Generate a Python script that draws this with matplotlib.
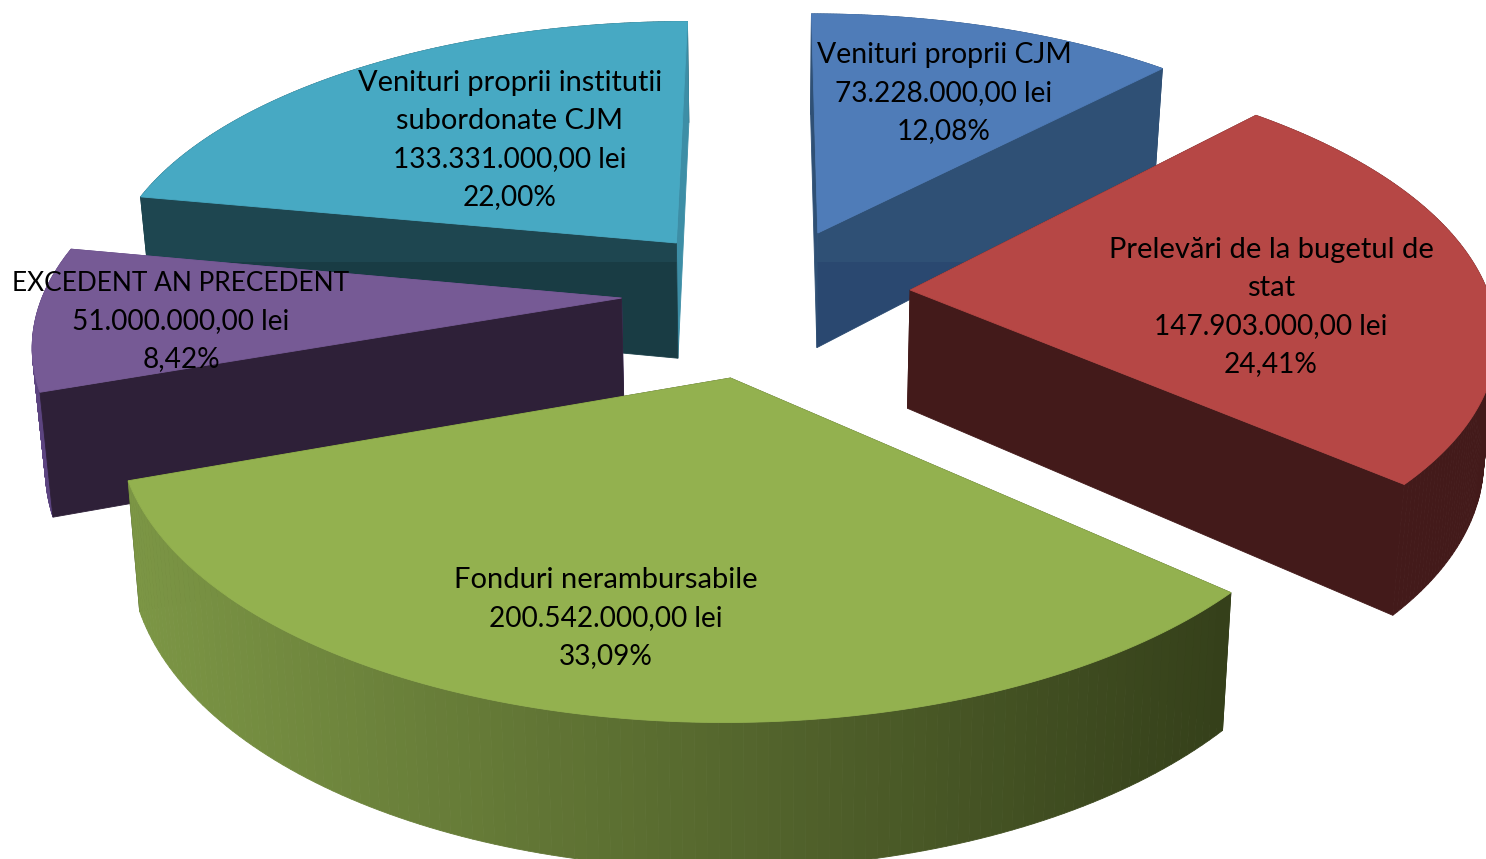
import matplotlib
matplotlib.use("Agg")
import matplotlib.pyplot as plt
from matplotlib.patches import Polygon, Rectangle
import matplotlib.colors as mcolors
import numpy as np

# ========================== Data ==========================
categories = ["Venituri proprii CJM", "Prelevări de la bugetul de\nstat",
              "Fonduri nerambursabile", "EXCEDENT AN PRECEDENT",
              "Venituri proprii institutii\nsubordonate CJM"]
values = [73228000, 147903000, 200542000, 51000000, 133331000]

top_colors = ["#4f7cb8", "#b64745", "#93b14f", "#765a95", "#47a9c3"]
side_colors = ["#2f5075", "#431a1a", "#35401a", "#2e2038", "#1e4650"]
# colour of the radial faces of each slice
start_face_colors = ["#2f5075", "#431a1a", "#35401a", "#2e2038", "#1e4650"]
end_face_colors = ["#2f5075", "#431a1a", "#35401a", "#5c4480", "#3d8ea6"]
explode = [0.25, 0.25, 0.31, 0.25, 0.25]
label_pos = [(944, 91), (1271, 305), (606, 616), (181, 319), (510, 138)]
caption_size = [20.4, 21.0, 21.0, 18.9, 20.9]

# projection of the tilted pie
CX, CY = 766, 293
SCALE_X, SCALE_Y = 578, 267
PERSP_X = 0.145
PERSP_Y = 0.145
HEIGHT = 0.205     # height of the pie, fraction of local scale
SHRINK = 0.982     # the bottom face is further away from the camera
LINE_STEP = 38


def project(X, Y, bottom=False):
    wx = 1 + PERSP_X * Y
    wy = 1 + PERSP_Y * Y
    sx = SCALE_X * X / wx
    sy = CY - SCALE_Y * Y / wy
    if bottom:
        sx = sx * SHRINK
        sy = sy + HEIGHT * SCALE_X / wx
    return CX + sx, sy


def fmt_lines(cat, val, total):
    num = f"{val:,.2f}".replace(",", "X").replace(".", ",").replace("X", ".")
    pct = f"{100 * val / total:.2f}".replace(".", ",")
    return cat.split("\n"), [f"{num} lei", f"{pct}%"]


def draw_face(ax, xs, ys, color, zorder):
    patch = Polygon(np.column_stack([xs, ys]), closed=True, fc=color, ec=color, lw=0.6, zorder=zorder)
    ax.add_patch(patch)
    return patch


def draw_slice(ax, a0, a1, i, base_z):
    mid = (a0 + a1) / 2
    ox, oy = explode[i] * np.sin(mid), explode[i] * np.cos(mid)
    ang = np.linspace(a0, a1, 120)
    X = ox + np.sin(ang)
    Y = oy + np.cos(ang)

    # radial faces and outer skin, sorted back to front
    faces = []
    for name, a, col in (("start", a0, start_face_colors[i]), ("end", a1, end_face_colors[i])):
        fx = np.array([ox, ox + np.sin(a)])
        fy = np.array([oy, oy + np.cos(a)])
        faces.append((fy.mean(), name, fx, fy, col))
    faces.append((Y.mean(), "arc", X, Y, None))
    faces.sort(key=lambda f: -f[0])

    patches = {}
    z = base_z
    for _, kind, fx, fy, col in faces:
        tx, ty = project(fx, fy)
        bx, by = project(fx, fy, bottom=True)
        if kind != "arc":
            patches[kind] = draw_face(ax, [tx[0], tx[1], bx[1], bx[0]],
                                      [ty[0], ty[1], by[1], by[0]], col, z)
        else:
            for k in range(len(tx) - 1):
                c = side_colors[i]
                if i == 2:
                    # the green skin gets darker from left to right
                    t = np.clip((tx[k] - 130) / 1100, 0, 1)
                    c = mcolors.to_hex((1 - t) * np.array(mcolors.to_rgb("#7c9645"))
                                       + t * np.array(mcolors.to_rgb("#35401a")))
                if i == 3:
                    c = "#5c4480"
                draw_face(ax, [tx[k], tx[k + 1], bx[k + 1], bx[k]],
                          [ty[k], ty[k + 1], by[k + 1], by[k]], c, z)
        z += 0.1

    tx, ty = project(X, Y)
    ax_, ay_ = project(ox, oy)
    draw_face(ax, np.r_[ax_, tx], np.r_[ay_, ty], top_colors[i], z)
    return patches


fig = plt.figure(figsize=(14.86, 8.59), dpi=100)
ax = fig.add_axes([0, 0, 1, 1])
ax.set_xlim(0, 1486)
ax.set_ylim(859, 0)
ax.axis("off")

total = sum(values)
fractions = np.array(values) / total
edges = np.r_[0, np.cumsum(fractions)] * 2 * np.pi

# back slices first: teal, blue, purple, red, green
faces_by_slice = {}
for base_z, i in enumerate([4, 0, 3, 1, 2]):
    faces_by_slice[i] = draw_slice(ax, edges[i], edges[i + 1], i, base_z + 1)

# dark band across the lower part of the two back faces
band = Rectangle((0, 262), 1486, 140, fc="black", alpha=0.14, lw=0, zorder=1.25)
ax.add_patch(band)
band.set_clip_path(faces_by_slice[4]["start"])
band = Rectangle((0, 262), 1486, 140, fc="#10205a", alpha=0.16, lw=0, zorder=2.25)
ax.add_patch(band)
band.set_clip_path(faces_by_slice[0]["end"])

for i, (cat, val) in enumerate(zip(categories, values)):
    caption, numbers = fmt_lines(cat, val, total)
    lines = caption + numbers
    y0 = label_pos[i][1] - (len(lines) - 1) / 2 * LINE_STEP
    for n, line in enumerate(lines):
        size = caption_size[i] if n < len(caption) else 20.2
        ax.text(label_pos[i][0], y0 + n * LINE_STEP + 10, line, ha="center", va="baseline",
                family="Lato", fontsize=size, color="black", zorder=20)

plt.savefig("out.png", dpi=100)
